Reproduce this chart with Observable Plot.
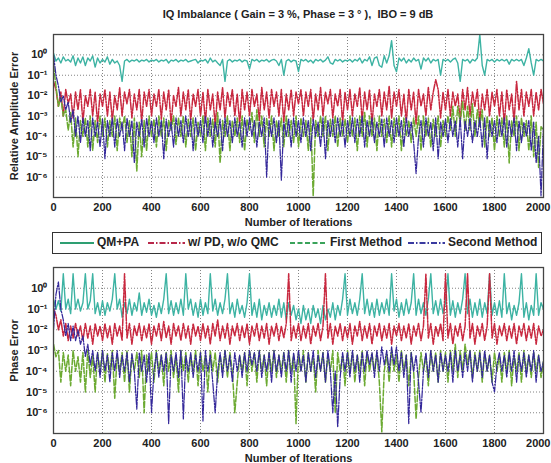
<!DOCTYPE html>
<html><head><meta charset="utf-8">
<script src="https://cdn.jsdelivr.net/npm/d3@7"></script>
<script src="https://cdn.jsdelivr.net/npm/@observablehq/plot@0.6"></script>
<style>
body{margin:0;background:#fff;font-family:"Liberation Sans",Arial,sans-serif;}
#wrap{position:relative;width:551px;height:463px;overflow:hidden;background:#fff}
.abs{position:absolute}
#title{left:53px;top:8px;width:490px;text-align:center;font-weight:bold;font-size:11px;color:#222}
#legend{left:52px;top:232px;width:488px;height:20px;border:1.5px solid #333;background:#fff}
.lt{position:absolute;top:2px;font-weight:bold;font-size:12px;color:#222;white-space:nowrap}
.ls{position:absolute;top:3px}
</style></head><body>
<div id="wrap">
  <div id="top" class="abs" style="left:0;top:0"></div>
  <div id="bot" class="abs" style="left:0;top:258px"></div>
  <div id="title" class="abs">IQ Imbalance ( Gain = 3 %, Phase = 3 ° ),&nbsp; IBO = 9 dB</div>
  <div id="legend" class="abs"></div>
</div>
<script>
// sampled every 10 iterations, 0..2000
const iterStep = 10;
const xTicks = [0, 200, 400, 600, 800, 1000, 1200, 1400, 1600, 1800, 2000];
const yTicks = [1e-6, 1e-5, 1e-4, 1e-3, 1e-2, 1e-1, 1];
const seriesNames = ["QM+PA", "w/ PD, w/o QMC", "First Method", "Second Method"];

// ---- Relative Amplitude Error (top panel) ----
const ampQMPA = [
1.2,0.5,0.7,0.4,0.8,0.5,0.6,0.45,0.9,0.3,0.7,0.4,0.8,0.3,0.7,0.5,0.9,0.25,0.7,0.4,
0.6,0.45,0.8,0.35,0.6,0.4,0.5,0.3,0.05,0.5,0.6,0.45,0.55,0.5,0.6,0.45,0.55,0.5,0.6,0.45,
0.55,0.5,0.6,0.45,0.55,0.5,0.6,0.4,0.55,0.5,0.6,0.45,0.55,0.5,0.6,0.45,0.5,0.55,0.6,0.4,
0.55,0.5,0.6,0.4,0.7,0.45,0.55,0.4,0.3,0.6,0.05,0.5,0.6,0.45,0.55,0.5,0.6,0.45,0.55,0.5,
0.2,0.6,0.5,0.6,0.45,0.55,0.5,0.6,0.45,0.55,0.6,0.5,0.3,0.6,0.1,0.5,0.6,0.45,0.55,0.5,
0.15,0.6,0.5,0.6,0.45,0.55,0.4,0.6,0.5,0.6,0.45,0.55,0.8,0.4,0.35,0.6,0.5,0.6,0.45,0.55,
0.5,0.6,0.45,0.6,0.5,0.7,0.4,0.6,0.5,0.8,0.3,0.7,0.8,0.3,0.25,0.9,0.4,0.9,5,0.3,
0.15,0.7,0.5,0.7,0.4,0.6,0.45,0.7,0.5,0.6,0.2,0.7,0.5,0.7,0.4,0.6,0.5,0.6,0.1,0.6,
0.5,0.6,0.45,0.6,0.7,0.4,0.05,0.6,0.5,0.6,0.4,0.6,0.5,0.7,10,0.3,0.1,0.6,0.5,0.6,
0.45,0.6,0.5,0.6,0.5,0.6,0.35,0.6,0.5,0.6,0.5,0.6,0.3,0.7,2,0.4,0.1,0.6,0.5,0.6,
0.5];
const ampPD = [
5e-2,2e-2,3e-3,1.5e-2,1e-3,2e-2,4e-3,1.2e-2,8e-4,1.5e-2,2e-3,2e-2,5e-4,1e-2,3e-3,2e-2,1e-3,1.5e-2,4e-4,1.2e-2,
3e-3,2e-2,1e-3,1.5e-2,6e-4,1e-2,2e-3,2.5e-2,1e-3,1.5e-2,4e-3,2e-2,8e-4,1.2e-2,2e-3,2e-2,5e-4,1.5e-2,3e-3,2e-2,
1e-3,1.2e-2,3e-3,2e-2,7e-4,1.5e-2,2e-3,2e-2,4e-4,1e-2,3e-3,2.5e-2,1e-3,1.5e-2,2e-3,2e-2,6e-4,1.2e-2,3e-3,2e-2,
1e-3,1.5e-2,5e-4,2e-2,2e-3,1.2e-2,3e-4,1.5e-2,2e-3,2.5e-2,8e-4,1.5e-2,3e-3,2e-2,1e-3,1.2e-2,4e-4,2e-2,2e-3,1.5e-2,
1e-3,2e-2,3e-3,1.2e-2,6e-4,2.5e-2,2e-3,1.5e-2,8e-4,2e-2,3e-3,1.5e-2,1e-3,2e-2,5e-4,1.2e-2,2e-3,2e-2,1e-3,1.5e-2,
4e-3,2e-2,1e-3,1.5e-2,3e-3,2e-2,6e-4,1.2e-2,2e-3,2.5e-2,1e-3,1.5e-2,4e-3,2e-2,8e-4,1.2e-2,3e-3,2e-2,5e-4,1.5e-2,
2e-3,2e-2,1e-3,1.2e-2,3e-3,2.5e-2,6e-4,1.5e-2,2e-3,2e-2,4e-4,1.2e-2,3e-3,2e-2,1e-3,1.5e-2,2e-3,3e-2,8e-4,1.5e-2,
3e-3,2e-2,1e-3,1.2e-2,5e-4,2e-2,2e-3,1.5e-2,4e-4,2e-2,3e-3,1.2e-2,1e-3,2.5e-2,2e-3,1.5e-2,6e-2,2e-2,8e-4,1.5e-2,
2e-3,2e-2,1e-3,1.5e-2,3e-3,1.2e-2,6e-4,2e-2,2e-3,2.5e-2,1e-3,1.5e-2,3e-3,2e-2,5e-4,1.2e-2,2e-3,2e-2,1e-3,1.5e-2,
3e-3,2e-2,1e-3,1.5e-2,4e-4,2e-2,2e-3,1.2e-2,5e-4,5e-2,2e-3,2e-2,1e-3,1.5e-2,3e-3,2e-2,1e-3,1.5e-2,2e-3,2e-2,
4e-3];
const ampFirst = [
0.3,3e-2,3e-3,8e-3,1e-3,2e-3,2e-4,1.5e-3,3e-5,8e-4,1e-5,6e-4,1e-4,8e-4,3e-5,1e-3,2e-5,6e-4,5e-5,1e-3,
1e-4,8e-4,3e-5,6e-4,1e-4,1e-3,2e-5,8e-4,2e-4,1e-3,5e-5,6e-4,1e-5,8e-4,2e-6,5e-4,1e-5,6e-4,2e-5,1e-3,
1e-4,7e-4,3e-5,1e-3,1e-4,8e-4,2e-5,6e-4,2e-4,1e-3,4e-5,8e-4,1e-4,1e-3,3e-5,7e-4,1e-4,8e-4,2e-5,5e-4,
1e-4,1e-3,2e-5,8e-4,1e-4,7e-4,3e-5,1.5e-3,5e-6,6e-4,1e-4,1e-3,2e-5,6e-4,1e-4,8e-4,5e-5,1e-3,2e-5,7e-4,
2e-4,1.5e-3,5e-5,2e-3,1e-4,1e-3,3e-5,8e-4,1e-4,1e-3,2e-5,6e-4,1e-4,8e-4,3e-5,1e-3,1e-4,6e-4,5e-5,1e-3,
3e-5,8e-4,1e-4,6e-4,2e-5,8e-4,1.2e-7,6e-4,1e-4,1e-3,1e-4,1e-3,2e-5,7e-4,1e-4,1e-3,3e-5,8e-4,1e-4,7e-4,
5e-5,1e-3,1e-4,8e-4,2e-5,1e-3,1e-4,1.5e-3,3e-5,1e-3,1e-4,8e-4,2e-5,1e-3,1e-4,7e-4,5e-5,1e-3,3e-5,8e-4,
1e-4,1e-3,2e-5,8e-4,1e-4,6e-4,5e-5,8e-4,1e-4,1e-3,2e-5,1e-3,1e-4,8e-4,3e-5,7e-4,1e-4,1e-3,3e-5,6e-4,
1e-4,1e-3,2e-4,3e-3,1e-4,3e-3,5e-4,5e-3,2e-4,3e-3,2e-4,4e-3,1e-4,2e-3,3e-4,2e-3,3e-5,1e-3,1e-4,8e-4,
2e-5,1e-3,1e-4,8e-4,3e-5,1e-3,5e-6,6e-4,1e-4,1e-3,2e-5,8e-4,1e-4,6e-4,2e-5,1e-3,1e-5,5e-4,3e-6,3e-4,
2e-4];
const ampSecond = [
1,0.1,3e-2,5e-3,1e-2,2e-3,5e-3,5e-4,2e-3,1e-4,1e-3,5e-5,8e-4,1e-4,6e-4,2e-5,8e-4,1e-4,5e-4,3e-5,
7e-4,8e-6,6e-4,1e-4,8e-4,3e-5,7e-4,1e-4,5e-4,2e-5,8e-4,1e-4,6e-4,5e-6,5e-4,1e-4,7e-4,3e-5,8e-4,1e-4,
6e-4,5e-5,8e-4,1e-4,6e-4,8e-6,7e-4,1e-4,5e-4,3e-5,8e-4,1e-4,6e-4,5e-5,1e-3,1e-4,7e-4,2e-5,8e-4,1e-4,
6e-4,5e-5,1e-3,1e-4,8e-4,3e-5,5e-4,1e-4,7e-4,2e-5,8e-4,1e-4,6e-4,5e-5,8e-4,1e-4,5e-4,3e-5,8e-4,1e-4,
8e-4,1e-4,6e-4,3e-5,5e-4,1e-4,8e-4,1e-6,6e-4,1e-4,8e-4,5e-5,6e-4,7e-7,5e-4,1e-4,7e-4,3e-5,8e-4,1e-4,
6e-4,5e-5,8e-4,1e-4,6e-4,2e-5,7e-4,1e-4,5e-4,3e-5,8e-4,8e-6,6e-4,1e-4,7e-4,5e-5,8e-4,1e-4,6e-4,3e-5,
6e-4,1e-4,8e-4,5e-5,7e-4,1e-4,1e-3,3e-5,6e-4,1e-4,8e-4,5e-5,5e-4,1e-4,7e-4,3e-5,8e-4,1e-4,6e-4,5e-5,
8e-4,1e-4,6e-4,3e-5,8e-4,1e-4,5e-4,5e-5,1.5e-6,1e-4,6e-4,3e-5,8e-4,1e-4,5e-4,2e-5,8e-4,8e-6,5e-4,1e-4,
7e-4,5e-5,8e-4,1e-4,6e-4,3e-5,8e-4,8e-6,6e-4,1e-4,8e-4,5e-5,6e-4,1e-4,8e-4,3e-5,8e-4,8e-6,6e-4,1e-4,
6e-4,5e-5,7e-4,1e-4,8e-4,3e-5,6e-4,1e-4,8e-4,2e-5,6e-4,5e-5,5e-4,1e-4,6e-4,2e-5,5e-4,5e-6,1e-4,1.2e-7,
3e-4];

// ---- Phase Error (bottom panel) ----
const phQMPA = [
0.3,0.1,0.25,0.08,5,0.1,0.3,0.06,5,0.1,0.3,0.08,0.2,5,0.1,0.25,5,0.06,0.2,0.05,
0.25,0.05,0.2,0.08,0.3,5,0.1,0.3,0.04,0.2,0.06,0.3,0.05,0.2,0.08,0.6,0.05,0.2,0.07,0.3,
0.05,0.15,0.04,0.2,0.06,0.3,5,0.06,0.25,0.05,0.2,0.06,0.3,0.05,5,0.1,0.3,0.05,0.2,0.04,
0.3,0.05,0.2,0.06,5,0.08,0.3,0.05,0.2,0.06,0.3,5,0.06,0.2,0.04,0.3,0.06,0.15,0.04,0.2,
5,0.05,0.2,0.04,0.3,0.03,0.15,0.05,0.2,0.04,0.15,0.05,0.3,0.04,0.2,0.03,0.2,0.05,0.15,0.03,
0.1,0.02,0.15,0.03,0.1,0.02,0.15,0.04,0.1,0.02,0.15,0.03,0.1,0.04,0.2,0.03,0.15,0.05,0.3,5,
0.05,0.3,0.06,0.2,0.05,0.3,5,0.06,0.3,0.05,0.2,0.04,0.3,0.05,0.2,0.06,0.3,0.05,5,0.08,
0.3,0.04,0.2,0.05,0.3,0.06,0.2,5,0.05,0.3,0.06,0.2,0.05,0.3,5,0.06,0.25,0.05,0.3,0.06,
0.2,5,0.05,0.25,0.04,0.2,0.06,0.3,5,0.06,0.3,0.04,0.2,0.05,0.3,0.04,0.2,0.06,5,0.05,
0.2,0.05,0.25,0.04,5,0.06,0.2,0.03,0.15,0.05,0.2,5,0.04,0.2,0.03,0.15,0.05,5,0.05,0.2,
0.1];
const phPD = [
0.1,5e-2,1e-2,3e-2,5e-3,2e-2,3e-3,1.5e-2,4e-3,2e-2,5e-3,1.5e-2,3e-3,2e-2,4e-3,1.5e-2,2e-3,2e-2,5e-3,1.5e-2,
3e-3,2e-2,4e-3,1.5e-2,2e-3,2e-2,5e-3,1.5e-2,3e-3,5,4e-3,2e-2,2e-3,1.5e-2,5e-3,2e-2,3e-3,1.5e-2,4e-3,2e-2,
2e-3,1.5e-2,5e-3,2e-2,3e-3,2.5e-2,4e-3,1.5e-2,2e-3,2e-2,5e-3,1.5e-2,3e-3,2e-2,4e-3,1.5e-2,2e-3,2e-2,5e-3,1.5e-2,
3e-3,2e-2,4e-3,1.5e-2,2e-3,2e-2,5e-3,3e-2,3e-3,1.5e-2,4e-3,2e-2,2e-3,1.5e-2,5e-3,2e-2,3e-3,1.5e-2,4e-3,2e-2,
2e-3,1.5e-2,5e-3,2e-2,3e-3,1.5e-2,4e-3,2e-2,2e-3,1.5e-2,5e-3,2e-2,3e-3,1.5e-2,4e-3,2e-2,5,3e-3,1.5e-2,4e-3,
2e-2,3e-3,1.5e-2,4e-3,2e-2,2e-3,1.5e-2,5e-3,2e-2,3e-3,1.5e-2,5,4e-3,2e-2,2e-3,1.5e-2,5e-3,2e-2,3e-3,1.5e-2,
4e-3,2e-2,2e-3,1.5e-2,5e-3,2.5e-2,3e-3,1.5e-2,4e-3,2e-2,2e-3,1.5e-2,5e-3,2e-2,3e-3,1.5e-2,4e-3,2e-2,2e-3,1.5e-2,
5e-3,2e-2,3e-3,1.5e-2,4e-3,2e-2,2e-3,1.5e-2,5e-3,2e-2,3e-3,1.5e-2,5,4e-3,2e-2,2e-3,1.5e-2,5e-3,2e-2,3e-3,
5,4e-3,2e-2,2e-3,1.5e-2,5e-3,2e-2,3e-3,1.5e-2,5,4e-3,2e-2,2e-3,1.5e-2,5e-3,2e-2,3e-3,1.5e-2,5,4e-3,
2e-2,2e-3,1.5e-2,5e-3,2e-2,3e-3,1.5e-2,4e-3,2e-2,2e-3,1.5e-2,5e-3,2e-2,3e-3,1.5e-2,4e-3,2e-2,2e-3,1.5e-2,5e-3,
1e-2];
const phFirst = [
2e-3,5e-4,1e-3,3e-5,8e-4,1e-4,6e-4,2e-5,1e-3,1e-4,5e-4,3e-5,8e-4,1e-5,1e-3,5e-5,6e-4,1e-5,8e-4,1e-4,
1e-3,3e-5,7e-4,1e-4,1e-3,5e-6,6e-4,1e-4,8e-4,3e-5,1e-3,1e-5,6e-4,1e-4,8e-4,5e-5,1e-3,1e-6,6e-4,1e-4,
8e-4,3e-5,1e-3,1e-4,6e-4,2e-5,8e-4,1e-4,1e-3,5e-5,6e-4,1e-5,1e-3,1e-4,8e-4,3e-5,6e-4,1e-4,1e-3,2e-5,
8e-4,1e-4,6e-4,1e-5,1e-3,1e-4,8e-4,3e-5,6e-4,1e-4,1e-3,5e-5,8e-4,1e-4,1e-6,3e-5,6e-4,1e-4,8e-4,2e-5,
1e-3,1e-4,8e-4,3e-5,1e-3,1e-4,6e-4,2e-5,8e-4,1e-4,1e-3,5e-5,6e-4,1e-4,8e-4,3e-5,1e-3,1e-4,6e-4,3e-7,
8e-4,1e-4,1e-3,3e-5,8e-4,1e-4,6e-4,1e-5,1e-3,1e-4,8e-4,3e-5,6e-4,1e-4,1e-3,1e-6,8e-4,1e-4,6e-4,2e-5,
1e-3,1e-4,8e-4,3e-5,6e-4,1e-4,1e-3,2e-5,8e-4,1e-4,7e-4,1e-4,8e-4,3e-5,1.2e-7,1e-4,7e-4,3e-5,1e-3,1e-4,
6e-4,3e-5,1e-3,1e-4,6e-4,2e-5,8e-4,1e-4,5e-7,5e-5,8e-4,1e-4,6e-4,2e-5,1e-3,1e-4,8e-4,3e-5,1e-3,1e-4,
8e-4,3e-5,1e-3,1e-4,2e-3,5e-5,1e-3,1e-4,2e-3,2e-4,1e-3,5e-5,8e-4,1e-4,1e-3,3e-5,8e-4,1e-4,6e-4,3e-5,
8e-4,1e-4,6e-4,3e-5,8e-4,1e-4,1e-3,2e-5,6e-4,1e-4,8e-4,3e-5,1e-3,1e-4,6e-4,5e-5,8e-4,1e-4,6e-4,5e-5,
3e-4];
const phSecond = [
1e-2,0.5,2,0.1,3e-2,5e-3,2e-2,3e-3,1.5e-2,3e-3,1e-2,2e-3,5e-3,5e-4,2e-3,2e-4,1e-3,1e-4,8e-4,5e-5,
1e-3,1e-4,6e-4,3e-5,8e-4,1e-4,1e-3,5e-5,6e-4,1e-4,8e-4,3e-5,7e-4,1e-4,1.5e-6,8e-4,1e-4,6e-4,3e-5,8e-4,
1e-6,1e-4,8e-4,5e-5,6e-4,1e-4,8e-4,3e-7,6e-4,1e-4,8e-4,5e-5,1e-3,5e-7,6e-4,1e-4,8e-4,5e-5,6e-4,1e-4,
8e-4,4e-7,1e-3,1e-4,6e-4,3e-5,1e-6,1e-4,8e-4,5e-5,1e-3,1e-4,6e-4,3e-5,8e-4,1e-4,6e-4,5e-5,8e-4,1e-4,
1e-3,2e-4,8e-4,1e-4,1e-3,5e-5,6e-4,1e-4,8e-4,3e-5,1e-3,1e-4,6e-4,5e-5,8e-4,1e-4,1e-3,3e-5,8e-4,1e-4,
1e-3,1e-4,6e-4,3e-5,8e-4,1e-4,1e-3,5e-5,6e-4,1e-4,8e-4,3e-5,1e-3,1e-4,1e-6,1e-4,2e-7,5e-5,8e-4,1e-4,
8e-4,5e-5,1e-3,1e-4,6e-4,3e-5,8e-4,1e-4,1e-3,2e-4,8e-4,5e-5,1e-3,1e-4,1.5e-3,2e-4,1e-3,1e-4,1.5e-3,2e-4,
1.5e-3,1e-4,8e-4,5e-5,6e-4,3e-7,8e-4,1e-4,6e-4,3e-5,1e-6,1e-4,8e-4,5e-5,1e-3,1e-4,6e-4,3e-5,8e-4,1e-4,
6e-4,1e-4,8e-4,3e-5,1e-3,1e-4,6e-4,5e-5,8e-4,1e-4,1e-3,3e-5,6e-4,1e-4,8e-4,5e-5,1e-3,1e-4,6e-4,3e-5,
1e-5,2e-4,8e-4,1e-4,6e-4,5e-5,8e-4,1e-4,1e-3,3e-5,6e-4,1e-4,8e-4,5e-5,6e-4,1e-4,1e-3,3e-5,6e-4,1e-4,
3e-4];

const colors = ["#3db3a3", "#c8283f", "#6caa32", "#34289a"];
const legendColors = ["#2e9f72", "#b8284a", "#3aa35a", "#3a3aa0"];
const dashes = [null, "7,1.5,1.5,1.5", "6,2", "7,1.5,1.5,1.5"];
const legendDashes = [null, "6,2,1.5,2", "5,2.5", "6,2,1.5,2"];
const widths = [1.4, 1.5, 1.5, 1.25];

const ampSeries = [ampQMPA, ampPD, ampFirst, ampSecond];
const phSeries = [phQMPA, phPD, phFirst, phSecond];

const sup = {"0":"⁰","1":"¹","2":"²","3":"³","4":"⁴","5":"⁵","6":"⁶","7":"⁷","8":"⁸","9":"⁹","-":"⁻"};
const fmt = d => "10" + String(Math.round(Math.log10(d))).split("").map(c => sup[c]).join("");

function panel(values, ylabel, height, mt, mb) {
  const lines = values.map((arr, k) => Plot.line(arr.map((v, i) => ({x: i * iterStep, y: v})), {
    x: "x", y: "y", stroke: colors[k], strokeWidth: widths[k],
    strokeDasharray: dashes[k] || undefined, clip: true
  }));
  const svg = Plot.plot({
    width: 551, height, marginLeft: 53, marginRight: 8, marginTop: mt, marginBottom: mb,
    style: {fontFamily: "'Liberation Sans', Arial, sans-serif", fontSize: "11px", fontWeight: "bold", background: "transparent", color: "#222"},
    x: {domain: [0, 2000], ticks: xTicks, tickFormat: d => String(d), label: "Number of Iterations",
        labelAnchor: "center", labelArrow: "none", labelOffset: 28, tickSize: 0, tickPadding: 6},
    y: {type: "log", domain: [1e-7, 10], ticks: yTicks, tickFormat: fmt, label: ylabel,
        labelAnchor: "center", labelArrow: "none", labelOffset: 43, tickSize: 0, tickPadding: 6},
    marks: [
      Plot.gridX(xTicks, {stroke: "#777", strokeOpacity: 0.9, strokeDasharray: "1,2"}),
      Plot.gridY(yTicks, {stroke: "#777", strokeOpacity: 0.9, strokeDasharray: "1,2"}),
      ...lines,
      Plot.frame({stroke: "#444", strokeWidth: 1.3})
    ]
  });
  // keep the last x tick label inside the picture
  const xt = d3.select(svg).selectAll('g[aria-label="x-axis tick label"] text').nodes();
  if (xt.length) d3.select(xt[xt.length - 1]).attr("text-anchor", "end").attr("dx", 7);
  return svg;
}

document.getElementById("top").appendChild(panel(ampSeries, "Relative Amplitude Error", 228, 34, 31));
document.getElementById("bot").appendChild(panel(phSeries, "Phase Error", 205, 9, 30));

// legend
const legendPos = [[7, 44], [95, 135], [237, 277], [355, 395]]; // sample start, text start (px inside box)
const leg = document.getElementById("legend");
seriesNames.forEach((name, k) => {
  const [s, t] = legendPos[k];
  const svg = d3.create("svg").attr("class", "ls").attr("width", t - s - 3).attr("height", 14)
    .style("left", s + "px");
  svg.append("line").attr("x1", 0).attr("x2", t - s - 3).attr("y1", 7).attr("y2", 7)
    .attr("stroke", legendColors[k]).attr("stroke-width", 1.8)
    .attr("stroke-dasharray", legendDashes[k] || null);
  leg.appendChild(svg.node());
  const span = document.createElement("span");
  span.className = "lt"; span.style.left = t + "px"; span.textContent = name;
  leg.appendChild(span);
});
</script>
</body></html>
